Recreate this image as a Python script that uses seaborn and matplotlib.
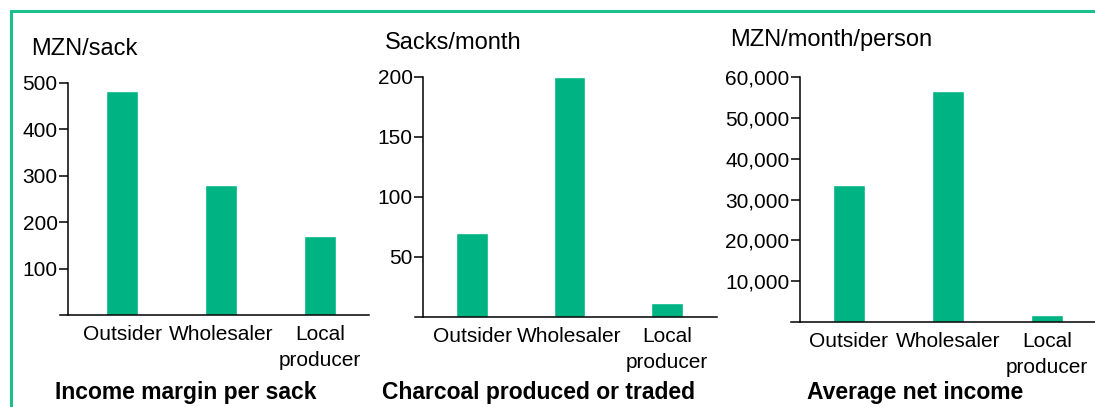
import matplotlib
matplotlib.use("Agg")
import matplotlib.pyplot as plt
import matplotlib.ticker as mticker
import pandas as pd
import seaborn as sns

# data
categories = ["Outsider", "Wholesaler", "Local\nproducer"]
margin_per_sack = [482, 280, 170]
sacks_per_month = [70, 200, 12]
net_income = [33500, 56600, 1700]

units = ["MZN/sack", "Sacks/month", "MZN/month/person"]
titles = ["Income margin per sack", "Charcoal produced or traded", "Average net income"]
yticks = [[100, 200, 300, 400, 500], [50, 100, 150, 200],
          [10000, 20000, 30000, 40000, 50000, 60000]]
ytops = [500, 200, 60000]

BAR = "#00b383"
FRAME = "#1dbf8a"
W, H = 1095, 407

sns.set_style("white")
plt.rcParams["font.family"] = ["Liberation Sans", "DejaVu Sans"]
plt.rcParams["text.color"] = "black"

fig = plt.figure(figsize=(W / 100, H / 100), dpi=100)

# layout in pixels: first bar centre, bar spacing, x-axis left/right, y-axis x, top y, zero y
layout = [
    (122, 99.0, 60, 369, 68, 83, 315),
    (472, 97.5, 415, 717, 423, 77, 317),
    (849, 99.0, 791, 1095, 800, 77, 322),
]
unit_pos = [(31, 49), (385, 43), (730, 40)]
title_pos = [(55, 392), (382, 392), (807, 392)]

series = [margin_per_sack, sacks_per_month, net_income]

for i, vals in enumerate(series):
    c0, step, xl, xr, yax, ytop_px, y0_px = layout[i]
    ax = fig.add_axes([xl / W, (H - y0_px) / H, (xr - xl) / W, (y0_px - ytop_px) / H])
    df = pd.DataFrame({"cat": categories, "val": vals})
    sns.barplot(data=df, x="cat", y="val", color=BAR, width=0.32,
                saturation=1, ax=ax)
    ax.set_xlim((xl - c0) / step, (xr - c0) / step)
    ax.set_ylim(0, ytops[i])
    ax.set_yticks(yticks[i])
    if i == 2:
        ax.yaxis.set_major_formatter(mticker.StrMethodFormatter("{x:,.0f}"))
    ax.set_xlabel("")
    ax.set_ylabel("")
    for s in ["top", "right"]:
        ax.spines[s].set_visible(False)
    for s in ["left", "bottom"]:
        ax.spines[s].set_color("black")
        ax.spines[s].set_linewidth(1.1)
    ax.spines["left"].set_position(("data", (yax - c0) / step))
    ax.tick_params(axis="y", length=6.5, width=1.1, color="black", pad=1,
                   labelsize=15, labelcolor="black", left=True)
    ax.tick_params(axis="x", length=0, pad=7.5, labelsize=15, labelcolor="black")
    for lab in ax.get_xticklabels():
        lab.set_linespacing(1.45)
        lab.set_verticalalignment("top")
    ax.patch.set_alpha(0)

    ux, uy = unit_pos[i]
    fig.text(ux / W, 1 - uy / H, units[i], fontsize=17, ha="left", va="center")
    tx, ty = title_pos[i]
    fig.text(tx / W, 1 - ty / H, titles[i], fontsize=16.5, fontweight="bold",
             ha="left", va="center")

# green frame on the top and left edges
fig.add_artist(plt.Line2D([11 / W, 11 / W], [0, 1 - 11 / H], color=FRAME,
                          linewidth=2.2, transform=fig.transFigure))
fig.add_artist(plt.Line2D([11 / W, 1], [1 - 11 / H, 1 - 11 / H], color=FRAME,
                          linewidth=2.2, transform=fig.transFigure,
                          solid_capstyle="projecting"))

fig.savefig("out.png", dpi=100)
